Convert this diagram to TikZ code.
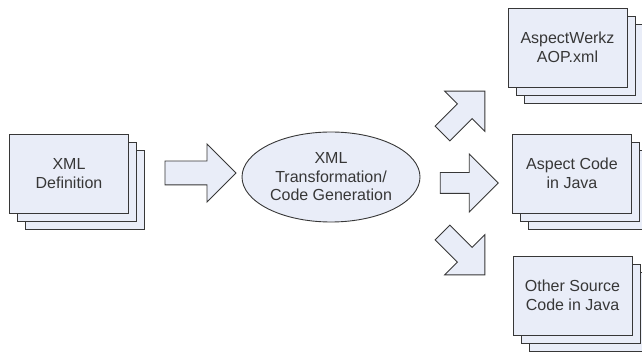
\documentclass[tikz,border=0pt]{standalone}
\usepackage{fontspec}
\setmainfont{Liberation Sans}
\usetikzlibrary{shapes.geometric, shapes.arrows, shadows}
\definecolor{fondbleu}{RGB}{233,237,248}
\definecolor{trait}{RGB}{55,55,55}
\begin{document}
\begin{tikzpicture}[x=1pt, y=-1pt]
\tikzset{feuilles/.style={draw=trait, fill=fondbleu, line width=0.9pt, rectangle, minimum width=119pt, minimum height=79pt, inner sep=0pt, align=center, text=trait, font=\fontsize{16}{18.5}\selectfont, double copy shadow={shadow xshift=8pt, shadow yshift=-8pt}}}
\tikzset{bulle/.style={draw=trait, fill=fondbleu, line width=0.9pt, ellipse, minimum width=178pt, minimum height=90pt, inner sep=0pt, align=center, text=trait, font=\fontsize{16}{18.5}\selectfont}}
\tikzset{fleche/.style={draw=trait, fill=fondbleu, line width=0.9pt, single arrow, minimum width=0pt, inner xsep=0pt, inner ysep=10pt, single arrow head extend=18pt, minimum height=60pt}}
\useasboundingbox (0,0) rectangle (642,352);
\node[feuilles] (E) at (69,173.5) {XML\\Definition};
\node[bulle] (T) at (331,177) {XML\\Transformation/\\Code Generation};
\node[feuilles] (S1) at (567.5,47.5) {AspectWerkz\\AOP.xml};
\node[feuilles] (S2) at (572,173.5) {Aspect Code\\in Java};
\node[feuilles] (S3) at (572.5,295.5) {Other Source\\Code in Java};
\node[fleche, minimum height=71pt, inner ysep=11.5pt, single arrow head extend=17pt] (F1) at (194.5,173) {};
\node[fleche, rotate=45] (F2) at (460,116) {};
\node[fleche, minimum height=58pt, single arrow head extend=18.5pt] (F3) at (464,183) {};
\node[fleche, rotate=-45] (F4) at (460,250) {};
\end{tikzpicture}
\end{document}
